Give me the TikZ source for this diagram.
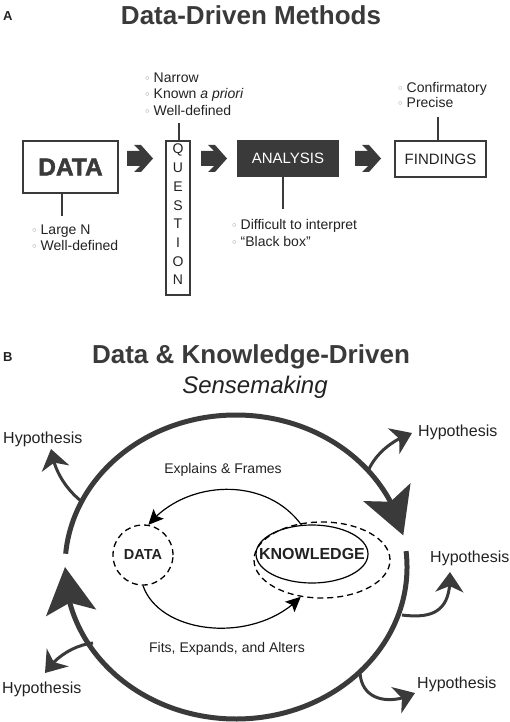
\documentclass[tikz,border=0pt]{standalone}
\usepackage{fontspec}
\usepackage{graphicx}
\setmainfont{Liberation Sans}
\newfontfamily\dejavu{DejaVu Sans}
\newfontfamily\heavyfont{Liberation Sans}[BoldFeatures={FakeBold=2}]
\usetikzlibrary{arrows.meta,bending,shapes.geometric}
\definecolor{dk}{HTML}{3A3A3A}
\definecolor{tx}{HTML}{222222}
\newcommand{\myfs}[1]{\fontsize{#1}{#1}\selectfont}
\newcommand{\bul}{{\dejavu\fontsize{11}{11}\selectfont\textcolor{gray}{◦}}\hspace{3pt}}
\begin{document}
\begin{tikzpicture}[x=1pt,y=-1pt,
  txt/.style={font=\myfs{14}, text=tx, inner sep=0pt, anchor=base west},
  ctxt/.style={font=\myfs{14}, text=tx, inner sep=0pt, anchor=base},
  hyp/.style={font=\myfs{16}, text=tx, inner sep=0pt, anchor=base west},
  lab/.style={font=\bfseries\myfs{13}, text=tx, inner sep=0pt, anchor=base west},
  box/.style={draw=dk, line width=1.6pt, inner sep=0pt, text=dk},
  stem/.style={draw=dk, line width=1.4pt},
  big/.style={draw=dk, line width=5pt, -{Stealth[length=46pt,width=50pt,inset=10pt]}},
  hy/.style={draw=dk, line width=3pt, -{Stealth[length=20pt,width=28pt,inset=6pt]}},
  thin/.style={draw=black, line width=1.2pt, -{Stealth[length=15pt,width=14pt,inset=3pt]}},
  dsh/.style={draw=black, line width=1.3pt, dash pattern=on 6pt off 4pt},
  chev/.pic={\fill[dk] (-13,-7.5) -- (0,-7.5) -- (-6,-13.5) -- (1,-13.5) -- (13,0) -- (1,13.5) -- (-6,13.5) -- (0,7.5) -- (-13,7.5) -- cycle;}
]
\useasboundingbox (0,0) rectangle (510,722);

% ---------------- Part A ----------------
\node[lab] (labA) at (3,21) {A};
\node[font=\bfseries\myfs{26}, text=dk, anchor=base, inner sep=0pt] (titleA) at (251,25) {Data-Driven Methods};

\node[box, minimum width=95pt, minimum height=52pt, font=\heavyfont\bfseries\myfs{24.5}] (data) at (70.5,167) {DATA};
\node[box, minimum width=24pt, minimum height=154pt, align=center, text depth=7pt, font=\fontsize{14}{18.7}\selectfont, text=tx] (qbox) at (178,218) {Q\\U\\E\\S\\T\\I\\O\\N};
\node[box, fill=dk, text=white, minimum width=100pt, minimum height=35pt, font=\myfs{15}] (an) at (288,158.5) {ANALYSIS};
\node[box, minimum width=91pt, minimum height=36pt, font=\myfs{15}, text=tx] (fi) at (440.5,159) {FINDINGS};

\pic at (140,158.5) {chev};
\pic at (214,158.5) {chev};
\pic at (368,158.5) {chev};

\node[txt] (q1) at (144,83) {\bul Narrow};
\node[txt] (q2) at (144,99) {\bul Known \textit{a priori}};
\node[txt] (q3) at (144,116) {\bul Well-defined};
\draw[stem] ([xshift=1pt]qbox.north) -- ++(0,-17);

\node[txt] (d1) at (31,234) {\bul Large N};
\node[txt] (d2) at (31,250) {\bul Well-defined};
\draw[stem] ([xshift=-8.5pt]data.south) -- ++(0,22);

\node[txt] (a1) at (231,229) {\bul Difficult to interpret};
\node[txt] (a2) at (231,246) {\bul ``Black box''};
\draw[stem] ([xshift=-5pt]an.south) -- ++(0,32);

\node[txt] (f1) at (397,92.5) {\bul Confirmatory};
\node[txt] (f2) at (397,108) {\bul Precise};
\draw[stem] ([xshift=-2.5pt]fi.north) -- ++(0,-23);

% ---------------- Part B ----------------
\node[lab] (labB) at (3,361) {B};
\node[font=\bfseries\myfs{26}, text=dk, anchor=base, inner sep=0pt] (titleB) at (251,363) {Data \& Knowledge-Driven};
\node[font=\itshape\myfs{24}, text=tx, anchor=base, inner sep=0pt] (sense) at (255,393) {Sensemaking};

% big cycle
\draw[big] (236,567) ++(185:171 and 152) arc[start angle=185, end angle=348, x radius=171, y radius=152];
\draw[big] (236,567) ++(-6:171 and 152) arc[start angle=-6, end angle=180, x radius=171, y radius=152];

% hypothesis branches
\coordinate (h1s) at (81,501);
\coordinate (h1e) at (51,449);
\coordinate (h2s) at (368,471);
\coordinate (h2e) at (412,433);
\coordinate (h3s) at (402,615);
\coordinate (h3e) at (450,572);
\coordinate (h4s) at (360,673);
\coordinate (h4e) at (415,693);
\coordinate (h5s) at (93,643);
\coordinate (h5e) at (45,673);
\draw[hy] (h1s) .. controls (65,488) and (54,470) .. (h1e);
\draw[hy] (h2s) .. controls (375,455) and (390,441) .. (h2e);
\draw[hy] (h3s) .. controls (440,620) and (451,605) .. (h3e);
\draw[hy] (h4s) .. controls (362,702) and (392,705) .. (h4e);
\draw[hy] (h5s) .. controls (75,645) and (56,656) .. (h5e);

\node[hyp] (hy1) at (3,443) {Hypothesis};
\node[hyp] (hy2) at (418,436) {Hypothesis};
\node[hyp] (hy3) at (430,562) {Hypothesis};
\node[hyp] (hy4) at (417,688) {Hypothesis};
\node[hyp] (hy5) at (2,693) {Hypothesis};

% inner
\node[dsh, circle, minimum size=60pt, inner sep=0pt, font=\bfseries\myfs{14.5}, text=tx] (dc) at (143,555) {DATA};
\node[dsh, ellipse, minimum width=136pt, minimum height=76pt, inner sep=0pt] (kd) at (322,560) {};
\node[draw=black, line width=1.2pt, ellipse, minimum width=112pt, minimum height=58pt, inner sep=0pt, font=\bfseries\myfs{16}, text=tx] (kn) at (312,554) {\makebox[0pt]{KNOWLEDGE}};

\draw[thin] (kn.110) .. controls (265,475) and (185,480) .. (dc.80);
\draw[thin] (dc.south) .. controls (160,635) and (255,645) .. (kd.240);

\node[ctxt] (ex) at (223,473) {Explains \& Frames};
\node[ctxt] (fx) at (227,652) {Fits, Expands, and Alters};
\end{tikzpicture}
\end{document}
